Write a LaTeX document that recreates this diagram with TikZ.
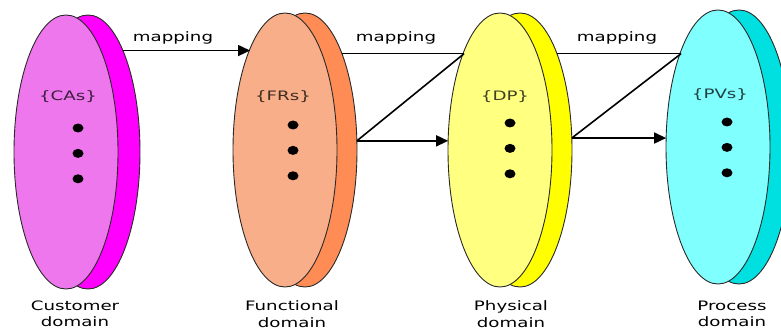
\documentclass[tikz,border=0pt]{standalone}
\usepackage{fontspec}
\setmainfont{DejaVu Sans}
\newfontfamily\wideface[FakeStretch=1.4]{DejaVu Sans}
\usepackage{tikz}
\usetikzlibrary{positioning, arrows.meta, shapes.geometric}
\definecolor{cafront}{HTML}{EE77EE}
\definecolor{caback}{HTML}{FF00FF}
\definecolor{frfront}{HTML}{F8AE88}
\definecolor{frback}{HTML}{FF8C55}
\definecolor{dpfront}{HTML}{FFFF80}
\definecolor{dpback}{HTML}{FFFF00}
\definecolor{pvfront}{HTML}{80FFFF}
\definecolor{pvback}{HTML}{00E0E0}
\definecolor{rimgray}{HTML}{2A2A2A}

\begin{document}
\begin{tikzpicture}[
  x=1pt, y=-1pt,
  disc/.style={
    ellipse, draw=rimgray, line width=0.9pt,
    minimum width=104pt, minimum height=274pt,
    inner sep=0pt, outer sep=0pt
  },
  setlabel/.style={font=\wideface\fontsize{13}{15}\selectfont},
  dot/.style={ellipse, fill=black, minimum width=11pt, minimum height=9pt, inner sep=0pt},
  domlabel/.style={font=\wideface\fontsize{13}{16.5}\selectfont, align=center},
  maplabel/.style={font=\wideface\fontsize{13}{15}\selectfont},
  arr/.style={-{Triangle[length=12pt, width=11pt]}, line width=1.6pt},
  ln/.style={line width=1.6pt},
]
\useasboundingbox (0,0) rectangle (781,334);

% Discs (back then front)
\node[disc, fill=caback] (caB) at (88,152) {};
\node[disc, fill=cafront] (ca) at (66,152) {};
\node[disc, fill=frback] (frB) at (305,150) {};
\node[disc, fill=frfront] (fr) at (285,150) {};
\node[disc, fill=dpback] (dpB) at (520,150) {};
\node[disc, fill=dpfront] (dp) at (500,150) {};
\node[disc, fill=pvback] (pvB) at (739,147) {};
\node[disc, fill=pvfront] (pv) at (718,147) {};

% Set names
\node[setlabel, text=cafront!25!black] (caT) at (68,97) {\{CAs\}};
\node[setlabel, text=frfront!25!black] (frT) at (283,97) {\{FRs\}};
\node[setlabel, text=dpfront!25!black] (dpT) at (505,97) {\{DP\}};
\node[setlabel, text=pvfront!25!black] (pvT) at (720,95) {\{PVs\}};

% Dots
\foreach \nm/\dx/\dy in {ca/78/128, fr/293/125, dp/510/123, pv/727/122}{
  \node[dot] (\nm d1) at (\dx,\dy) {};
  \node[dot, below=16pt of \nm d1] (\nm d2) {};
  \node[dot, below=16pt of \nm d2] (\nm d3) {};
}

% Domain names
\node[domlabel] (caL) at (75,314) {Customer\\domain};
\node[domlabel] (frL) at (292,314) {Functional\\domain};
\node[domlabel] (dpL) at (511,314) {Physical\\domain};
\node[domlabel] (pvL) at (732,314) {Process\\domain};

% Mappings
\draw[arr] (caB.71.2) -- (caB.71.2 -| fr.109.5);
\node[maplabel] (m1) at (173,38) {mapping};

\draw[ln] (frB.69.7) -- (frB.69.7 -| dp.110.3);
\draw[ln] (frB.10.9) -- (frB.69.7 -| dp.110.3);
\draw[arr] (frB.10.9) -- (frB.10.9 -| dp.169.1);
\node[maplabel] (m2) at (396,38) {mapping};

\draw[ln] (dpB.69.7) -- (dpB.69.7 -| pv.111.5);
\draw[ln] (dpB.13) -- (dpB.69.7 -| pv.111.5);
\draw[arr] (dpB.13) -- (dpB.13 -| pv.170.1);
\node[maplabel] (m3) at (617,38) {mapping};

\end{tikzpicture}
\end{document}
